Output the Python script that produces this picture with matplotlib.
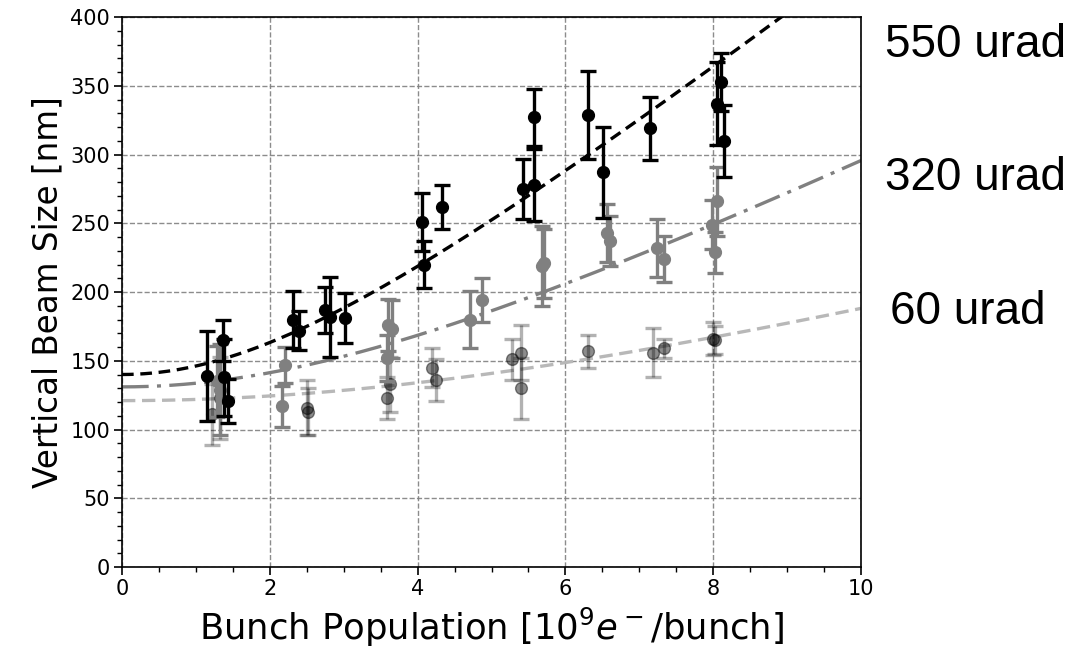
import numpy as np
import matplotlib
matplotlib.use("Agg")
import matplotlib.pyplot as plt
from matplotlib.ticker import AutoMinorLocator

# 550 urad (black)
black_x = [1.15, 1.37, 1.38, 1.43, 2.32, 2.39, 2.75, 2.81, 3.02, 4.06, 4.08, 4.33,
           5.43, 5.57, 5.57, 6.31, 6.51, 7.14, 8.05, 8.11, 8.14]
black_y = [139, 165, 138, 121, 180, 172, 187, 182, 181, 251, 220, 262,
           275, 278, 327, 329, 287, 319, 337, 353, 310]
black_err = [33, 15, 28, 16, 21, 14, 17, 29, 18, 21, 17, 16,
             22, 26, 21, 32, 33, 23, 30, 21, 26]

# 320 urad (gray)
gray_x = [1.28, 1.33, 2.16, 2.20, 3.58, 3.60, 3.65, 4.71, 4.87, 5.68, 5.71,
          6.56, 6.60, 7.24, 7.33, 7.98, 8.02, 8.05]
gray_y = [135, 129, 117, 147, 152, 176, 173, 180, 194, 219, 221,
          243, 237, 232, 224, 249, 229, 266]
gray_err = [26, 33, 15, 13, 17, 19, 21, 21, 16, 29, 25,
            21, 18, 21, 17, 18, 15, 25]

# 60 urad (light)
light_x = [1.22, 1.32, 2.51, 2.52, 3.58, 3.62, 4.19, 4.25, 5.28, 5.40, 5.40,
           6.31, 7.19, 7.33, 8.00, 8.03]
light_y = [111, 123, 116, 113, 123, 133, 145, 136, 151, 156, 130,
           157, 156, 159, 166, 165]
light_err = [22, 30, 20, 17, 15, 20, 14, 15, 15, 20, 22,
             12, 18, 7, 12, 10]

# fit parameters: sigma = sqrt(s0^2 + (k*N)^2)
fit_s0 = [140, 131, 121]
fit_k = [42.0, 26.5, 14.4]
angle_labels = ["550 urad", "320 urad", "60 urad"]

fig = plt.figure(figsize=(10.81, 6.61), dpi=100)
ax = fig.add_axes([122 / 1081, 1 - 567 / 661, (861 - 122) / 1081, (567 - 17) / 661])

n = np.linspace(0, 10, 300)
fit_styles = [dict(color="black", ls=(0, (3.5, 2))),
              dict(color="#808080", ls=(0, (8, 2.5, 1.2, 2.5))),
              dict(color="#b8b8b8", ls=(0, (4, 2)))]
for s0, k, st in zip(fit_s0, fit_k, fit_styles):
    ax.plot(n, np.sqrt(s0 ** 2 + (k * n) ** 2), lw=2.4, zorder=2, **st)

ebar = dict(fmt="o", ms=8.5, elinewidth=2.4, capsize=5.5, capthick=2.4)
ax.errorbar(light_x, light_y, yerr=light_err,
            color=(0, 0, 0, 0.5), mfc=(0, 0, 0, 0.45), mec=(0, 0, 0, 0.45),
            ecolor=(0, 0, 0, 0.3), zorder=3, **ebar)
ax.errorbar(gray_x, gray_y, yerr=gray_err, color="#808080", zorder=4, **ebar)
ax.errorbar(black_x, black_y, yerr=black_err, color="black", zorder=5, **ebar)

ax.set_xlim(0, 10)
ax.set_ylim(0, 400)
ax.set_yticks(np.arange(0, 401, 50))
ax.set_xticks(np.arange(0, 11, 2))
ax.xaxis.set_minor_locator(AutoMinorLocator(4))
ax.yaxis.set_minor_locator(AutoMinorLocator(5))
ax.tick_params(which="major", labelsize=15, length=6, width=1.2, pad=2.5)
ax.tick_params(which="minor", length=3.5, width=1)
for s in ax.spines.values():
    s.set_linewidth(1.2)
ax.grid(True, which="major", ls="--", color="gray", lw=1, alpha=0.9)
ax.set_axisbelow(True)

ax.set_xlabel("Bunch Population [$10^9 e^-$/bunch]", fontsize=25.5, labelpad=5)
ax.set_ylabel("Vertical Beam Size [nm]", fontsize=23.5, labelpad=4)

for lab, (tx, ty) in zip(angle_labels, [(885, 45), (885, 178), (890, 312)]):
    fig.text(tx / 1081, 1 - ty / 661, lab, fontsize=33, family="Liberation Sans",
             ha="left", va="center")

fig.savefig("out.png", dpi=100)
